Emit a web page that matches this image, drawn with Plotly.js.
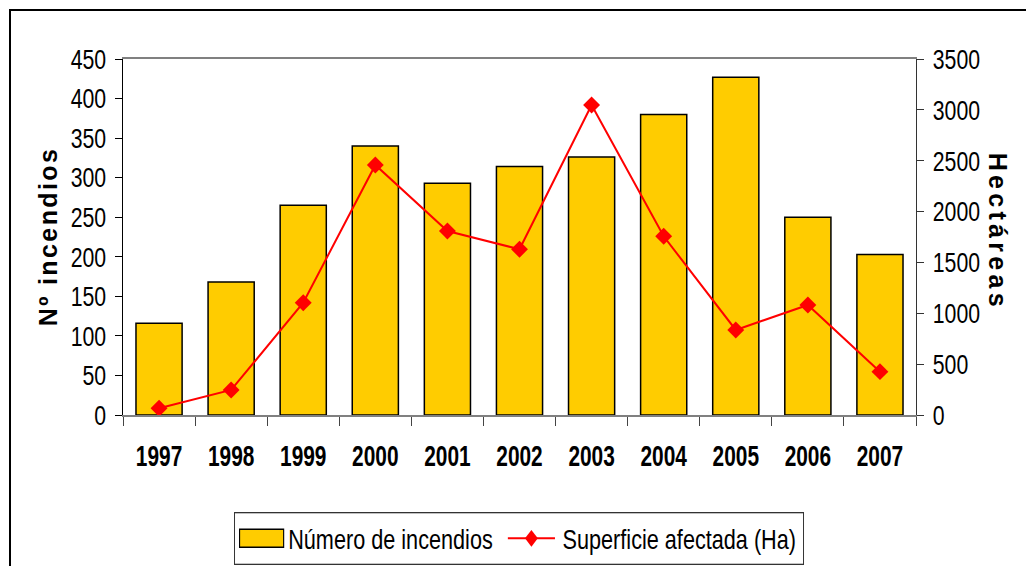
<!DOCTYPE html>
<html>
<head>
<meta charset="utf-8">
<script src="https://cdn.plot.ly/plotly-3.0.1.min.js"></script>
<style>
  html, body { margin: 0; padding: 0; background: #ffffff; overflow: hidden; }
  #frame { position: absolute; left: 9px; top: 9px; width: 1100px; height: 700px; border: 2px solid #000; box-sizing: border-box; }
  #chart { position: absolute; left: 0; top: 0; width: 1026px; height: 566px; }
  g.annotation[data-index="0"] .annotation-text { letter-spacing: 2.4px; }
  g.annotation[data-index="1"] .annotation-text { letter-spacing: 4.3px; }
</style>
</head>
<body>
<div id="frame"></div>
<div id="chart"></div>
<script>
const years = ['1997','1998','1999','2000','2001','2002','2003','2004','2005','2006','2007'];
const incendios = [116, 168, 265, 340, 293, 314, 326, 380, 427, 250, 203];
const superficie = [66, 246, 1104, 2458, 1809, 1629, 3048, 1757, 836, 1082, 426];
const leftTicks = [0, 50, 100, 150, 200, 250, 300, 350, 400, 450];
const rightTicks = [0, 500, 1000, 1500, 2000, 2500, 3000, 3500];

const FONT = '"Liberation Sans", Arial, sans-serif';
const SQUEEZE = 0.76;

const traces = [
  {
    type: 'bar', x: years, y: incendios, name: 'Número de incendios',
    marker: { color: '#FFCC00', line: { color: '#000000', width: 1.5 } },
    yaxis: 'y'
  },
  {
    type: 'scatter', mode: 'lines+markers', x: years, y: superficie, name: 'Superficie afectada (Ha)',
    line: { color: '#FF0000', width: 2 },
    marker: { symbol: 'diamond', size: 13, color: '#FF0000' },
    yaxis: 'y2'
  }
];

const layout = {
  width: 1026, height: 566,
  margin: { l: 123, r: 110, t: 59, b: 151, autoexpand: false },
  paper_bgcolor: 'rgba(0,0,0,0)',
  plot_bgcolor: 'rgba(0,0,0,0)',
  bargap: 0.36,
  showlegend: true,
  font: { family: FONT, size: 28, color: '#000' },
  xaxis: {
    type: 'category', range: [-0.5, 10.5], tickson: 'boundaries', ticks: 'outside', ticklen: 9, tickcolor: '#444',
    showline: true, linecolor: '#808080', linewidth: 2, mirror: true,
    showgrid: false, zeroline: false, automargin: false, tickangle: 0,
    tickfont: { family: FONT, size: 29, weight: 'bold' },
    ticklabelstandoff: 14
  },
  yaxis: {
    range: [0, 450], tickvals: leftTicks, ticks: 'outside', ticklen: 7, tickcolor: '#000',
    showline: true, linecolor: '#000', linewidth: 1.2, automargin: false,
    showgrid: false, zeroline: false, ticklabelstandoff: 3,
    tickfont: { family: FONT, size: 28 }
  },
  yaxis2: {
    range: [0, 3500], tickvals: rightTicks, overlaying: 'y', side: 'right',
    ticks: 'outside', ticklen: 7, tickcolor: '#333', automargin: false,
    showline: true, linecolor: '#333', linewidth: 1.2, ticklabelstandoff: 3,
    showgrid: false, zeroline: false,
    tickfont: { family: FONT, size: 28 }
  },
  legend: {
    orientation: 'h', x: 0.14, xanchor: 'left', y: -0.2725, yanchor: 'top',
    bordercolor: '#333', borderwidth: 1.3, bgcolor: '#fff',
    font: { family: FONT, size: 28.5 }, itemwidth: 60, tracegroupgap: 0
  },
  annotations: [
    { text: '<b>Nº incendios</b>', xref: 'paper', yref: 'paper', x: -0.0946, y: 0.503,
      xanchor: 'center', yanchor: 'middle', textangle: -90, showarrow: false,
      font: { family: FONT, size: 25 } },
    { text: '<b>Hectáreas</b>', xref: 'paper', yref: 'paper', x: 1.1034, y: 0.514,
      xanchor: 'center', yanchor: 'middle', textangle: 90, showarrow: false,
      font: { family: FONT, size: 25 } }
  ]
};

function squeezeText(selector, sx) {
  document.querySelectorAll(selector).forEach(el => {
    const bb = el.getBBox();
    const anchor = el.getAttribute('text-anchor') || 'start';
    let px = bb.x;
    if (anchor === 'end') px = bb.x + bb.width;
    else if (anchor === 'middle') px = bb.x + bb.width / 2;
    const t = el.getAttribute('transform') || '';
    el.setAttribute('transform', t + ' translate(' + px + ',0) scale(' + sx + ',1) translate(' + (-px) + ',0)');
  });
}

function translateX(el) {
  const m = /translate\(\s*([-\d.eE]+)[ ,]*([-\d.eE]+)?/.exec(el.getAttribute('transform') || '');
  return m ? [parseFloat(m[1]), parseFloat(m[2] || 0)] : [0, 0];
}

Plotly.newPlot('chart', traces, layout, { displayModeBar: false, staticPlot: true }).then(() => {
  squeezeText('.xtick text', 0.72);
  squeezeText('.ytick text', SQUEEZE);
  squeezeText('.y2tick text', SQUEEZE);

  const lg = document.querySelector('g.legend');
  if (!lg) return;
  // wide bar swatch
  lg.querySelectorAll('.legendpoints path').forEach(p => {
    if ((p.getAttribute('d') || '').startsWith('M6,6H-6V-6H6Z')) {
      p.setAttribute('d', 'M29,9H-29V-9H29Z');
    }
  });
  // longer line swatch around the diamond, second entry moved right
  const items = lg.querySelectorAll('g.traces');
  if (items.length === 2) {
    const lineGroup = items[1];
    const dia = lineGroup.querySelector('.legendpoints path');
    const cx = dia ? translateX(dia)[0] : 30;
    lineGroup.querySelectorAll('.legendlines path').forEach(p => {
      p.setAttribute('d', 'M' + (cx - 37) + ',0h62');
    });
    if (dia) dia.setAttribute('transform', 'translate(' + (cx - 6) + ',0)');
    const [x0] = translateX(items[0]);
    const [, y1] = translateX(items[1]);
    items[1].setAttribute('transform', 'translate(' + (x0 + 361) + ',' + y1 + ')');
  }
  const W = 569 / SQUEEZE;
  const bg = lg.querySelector('rect.bg');
  if (bg) bg.setAttribute('width', W);
  document.querySelectorAll('clipPath[id^="legend"] rect').forEach(r => r.setAttribute('width', W));
  const t = lg.getAttribute('transform') || '';
  lg.setAttribute('transform', t + ' scale(' + SQUEEZE + ',1)');
});
</script>
</body>
</html>
